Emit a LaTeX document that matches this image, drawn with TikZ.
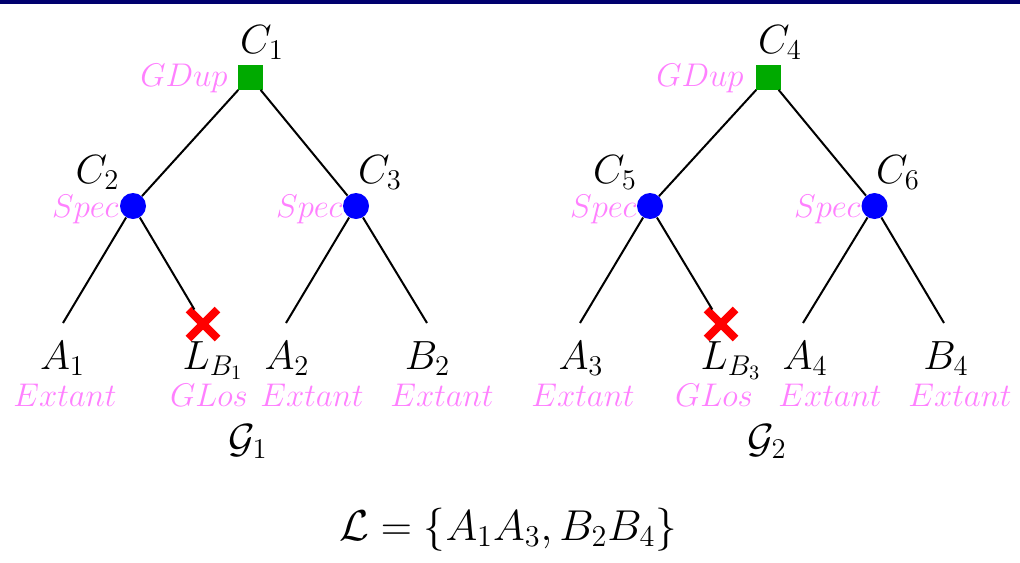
\RequirePackage{fix-cm}
\documentclass[tikz,border=0pt]{standalone}
\usetikzlibrary{shapes.misc}
\definecolor{navybar}{RGB}{0,0,110}
\definecolor{evpink}{RGB}{255,128,255}
\definecolor{dupgreen}{RGB}{0,170,0}
\begin{document}
\begin{tikzpicture}[x=0.5pt,y=-0.5pt,
  dup/.style={rectangle,fill=dupgreen,minimum size=12.5pt,inner sep=0pt},
  spec/.style={circle,fill=blue,minimum size=13pt,inner sep=0pt},
  loss/.style={cross out,draw=red,line width=4pt,minimum size=10.5pt,inner sep=0pt},
  edge/.style={line width=1pt},
  lbl/.style={font=\fontsize{20.4}{24}\selectfont,inner sep=0pt,anchor=base},
  ev/.style={text=evpink,font=\fontsize{16.4}{20}\selectfont,inner sep=0pt,anchor=base},
]
\useasboundingbox (0,0) rectangle (1020,562);
\fill[navybar] (0,0) rectangle (1020,3.5);

% ---- tree 1 ----
\node[dup]  (c1) at (250,77) {};
\node[spec] (c2) at (133,206) {};
\node[spec] (c3) at (356,206) {};
\coordinate (a1) at (63,323);
\node[loss] (lb1) at (203,324) {};
\coordinate (a2) at (286,323);
\coordinate (b2) at (427,323);
\draw[edge] (c1) -- (c2);
\draw[edge] (c1) -- (c3);
\draw[edge] (c2) -- (a1);
\draw[edge] (c2) -- (lb1);
\draw[edge] (c3) -- (a2);
\draw[edge] (c3) -- (b2);

\node[lbl] (tc1) at (262,53) {$C_1$};
\node[ev,anchor=base east] (ec1) at (228,86) {$GDup$};
\node[lbl] (tc2) at (97.5,183) {$C_2$};
\node[ev,anchor=base east] (ec2) at (119,217) {$Spec$};
\node[lbl] (tc3) at (380,183) {$C_3$};
\node[ev,anchor=base east] (ec3) at (343,217) {$Spec$};

\node[lbl] (ta1) at (62.5,369) {$A_1$};
\node[ev]  (ea1) at (65,406) {$Extant$};
\node[lbl] (tlb1) at (213,369) {$L_{B_1}$};
\node[ev]  (elb1) at (209,406) {$GLos$};
\node[lbl] (ta2) at (287,369) {$A_2$};
\node[ev]  (ea2) at (312,406) {$Extant$};
\node[lbl] (tb2) at (427.5,369) {$B_2$};
\node[ev]  (eb2) at (442,406) {$Extant$};
\node[lbl] (g1) at (248,452) {$\mathcal{G}_1$};

% ---- tree 2 ----
\node[dup]  (c4) at (768,77) {};
\node[spec] (c5) at (650,206) {};
\node[spec] (c6) at (874.5,206) {};
\coordinate (a3) at (580,323);
\node[loss] (lb3) at (721,324) {};
\coordinate (a4) at (803,323);
\coordinate (b4) at (944,323);
\draw[edge] (c4) -- (c5);
\draw[edge] (c4) -- (c6);
\draw[edge] (c5) -- (a3);
\draw[edge] (c5) -- (lb3);
\draw[edge] (c6) -- (a4);
\draw[edge] (c6) -- (b4);

\node[lbl] (tc4) at (780,53) {$C_4$};
\node[ev,anchor=base east] (ec4) at (744,86) {$GDup$};
\node[lbl] (tc5) at (615,183) {$C_5$};
\node[ev,anchor=base east] (ec5) at (637,217) {$Spec$};
\node[lbl] (tc6) at (898,183) {$C_6$};
\node[ev,anchor=base east] (ec6) at (861,217) {$Spec$};

\node[lbl] (ta3) at (581,369) {$A_3$};
\node[ev]  (ea3) at (583,406) {$Extant$};
\node[lbl] (tlb3) at (731,369) {$L_{B_3}$};
\node[ev]  (elb3) at (714,406) {$GLos$};
\node[lbl] (ta4) at (805,369) {$A_4$};
\node[ev]  (ea4) at (830,406) {$Extant$};
\node[lbl] (tb4) at (946,369) {$B_4$};
\node[ev]  (eb4) at (960,406) {$Extant$};
\node[lbl] (g2) at (767,452) {$\mathcal{G}_2$};

\node[lbl,font=\fontsize{21.6}{26}\selectfont] (formula) at (508,540) {$\mathcal{L}=\{A_1A_3,B_2B_4\}$};
\end{tikzpicture}
\end{document}
